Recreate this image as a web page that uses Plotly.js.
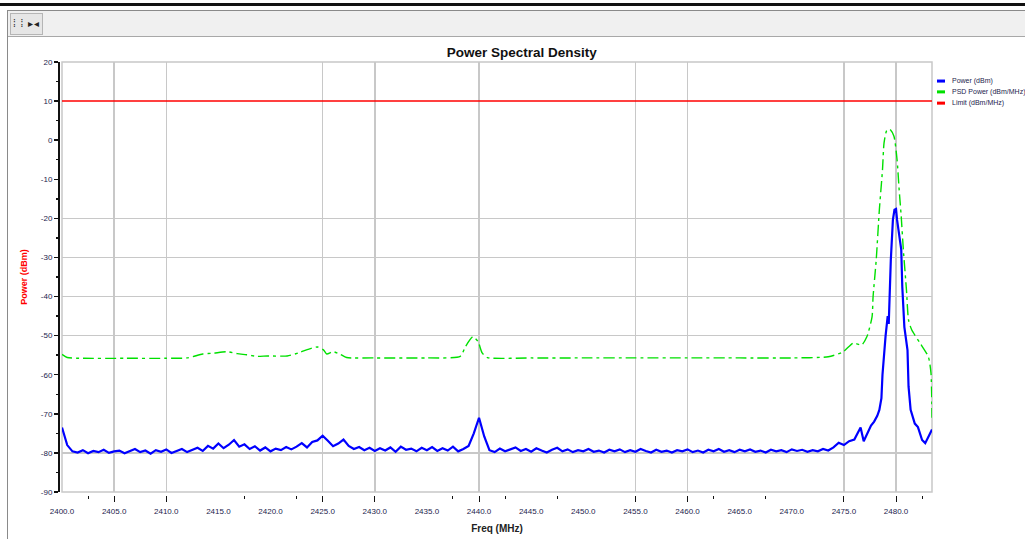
<!DOCTYPE html>
<html>
<head>
<meta charset="utf-8">
<script src="https://cdn.plot.ly/plotly-3.0.1.min.js"></script>
<style>
  html, body { margin:0; padding:0; background:#fff; width:1025px; height:539px; overflow:hidden; font-family:"Liberation Sans", Arial, sans-serif; }
  #topbar { position:absolute; left:0; top:3px; width:1025px; height:3px; background:#111; }
  #toolbar { position:absolute; left:8px; top:10px; width:1017px; height:25px; background:#f0f0f0; border-top:1px solid #8a8a8a; border-bottom:1px solid #a8a8a8; }
  #leftborder { position:absolute; left:7px; top:10px; width:1px; height:529px; background:#8a8a8a; }
  #btn { position:absolute; left:10px; top:13px; width:31px; height:20px; background:#e6e6e6; border:1px solid #b5b5b5; font-size:10px; line-height:20px; color:#222; text-align:center; letter-spacing:1px; }
  #chart { position:absolute; left:0; top:0; width:1025px; height:539px; }
</style>
</head>
<body>
<div id="topbar"></div>
<div id="toolbar"></div>
<div id="leftborder"></div>
<div id="btn">⁞ ⁞ ▸◂</div>
<div id="chart"></div>
<script>
// ---- Data ----
const seriesNames = ['Power (dBm)', 'PSD Power (dBm/MHz)', 'Limit (dBm/MHz)'];
const seriesColors = ['#0000ff', '#00e000', '#ff0000'];

const powerFreq = [
  2400.0,2400.5,2401.0,2401.5,2402.0,2402.5,2403.0,2403.5,2404.0,2404.5,
  2405.0,2405.5,2406.0,2406.5,2407.0,2407.5,2408.0,2408.5,2409.0,2409.5,
  2410.0,2410.5,2411.0,2411.5,2412.0,2412.5,2413.0,2413.5,2414.0,2414.5,
  2415.0,2415.5,2416.0,2416.5,2417.0,2417.5,2418.0,2418.5,2419.0,2419.5,
  2420.0,2420.5,2421.0,2421.5,2422.0,2422.5,2423.0,2423.5,2424.0,2424.5,
  2425.0,2425.5,2426.0,2426.5,2427.0,2427.5,2428.0,2428.5,2429.0,2429.5,
  2430.0,2430.5,2431.0,2431.5,2432.0,2432.5,2433.0,2433.5,2434.0,2434.5,
  2435.0,2435.5,2436.0,2436.5,2437.0,2437.5,2438.0,2438.5,2439.0,2439.5,
  2440.0,2440.5,2441.0,2441.5,2442.0,2442.5,2443.0,2443.5,2444.0,2444.5,
  2445.0,2445.5,2446.0,2446.5,2447.0,2447.5,2448.0,2448.5,2449.0,2449.5,
  2450.0,2450.5,2451.0,2451.5,2452.0,2452.5,2453.0,2453.5,2454.0,2454.5,
  2455.0,2455.5,2456.0,2456.5,2457.0,2457.5,2458.0,2458.5,2459.0,2459.5,
  2460.0,2460.5,2461.0,2461.5,2462.0,2462.5,2463.0,2463.5,2464.0,2464.5,
  2465.0,2465.5,2466.0,2466.5,2467.0,2467.5,2468.0,2468.5,2469.0,2469.5,
  2470.0,2470.5,2471.0,2471.5,2472.0,2472.5,2473.0,2473.5,2474.0,2474.5,
  2475.0,2475.5,2476.0,2476.3,2476.6,2476.9,2477.3,2477.6,2477.9,2478.2,
  2478.4,2478.6,2478.7,2478.8,2479.0,2479.2,2479.3,2479.5,2479.7,2479.85,
  2480.0,2480.1,2480.3,2480.5,2480.6,2480.8,2481.1,2481.2,2481.4,2481.6,
  2481.8,2482.1,2482.3,2482.5,2482.8,2483.1,2483.3,2483.45
];
const powerDbm = [
  -73.5,-78.0,-79.6,-79.9,-79.3,-80.1,-79.5,-79.8,-79.2,-80.0,
  -79.6,-79.4,-80.1,-79.5,-79.0,-79.8,-79.4,-80.2,-79.3,-79.7,
  -79.1,-80.0,-79.4,-79.0,-79.8,-79.2,-78.7,-79.5,-78.2,-78.9,
  -77.6,-78.8,-77.9,-76.7,-78.4,-77.8,-79.0,-78.3,-79.4,-78.6,
  -79.6,-78.9,-79.3,-78.5,-79.1,-78.4,-77.5,-78.6,-77.2,-76.8,
  -75.6,-76.9,-78.3,-77.6,-76.6,-78.2,-79.0,-78.5,-79.3,-78.7,
  -79.5,-78.8,-79.4,-78.6,-79.7,-78.4,-79.2,-78.9,-79.6,-78.7,
  -79.3,-78.5,-79.5,-78.8,-79.4,-78.4,-79.6,-79.0,-78.2,-75.0,
  -71.0,-75.8,-79.3,-79.8,-78.9,-79.6,-79.1,-78.6,-79.5,-79.0,
  -79.7,-78.8,-79.4,-79.9,-79.2,-78.7,-79.6,-79.1,-79.8,-79.3,
  -79.6,-79.0,-79.7,-79.4,-79.9,-79.2,-79.6,-79.1,-79.8,-79.3,
  -79.7,-79.0,-79.5,-79.9,-79.2,-79.7,-79.4,-79.9,-79.3,-79.6,
  -79.1,-79.8,-79.4,-79.9,-79.2,-79.6,-79.0,-79.7,-79.3,-79.8,
  -79.2,-79.6,-79.1,-79.7,-79.4,-79.9,-79.2,-79.6,-79.3,-79.8,
  -79.1,-79.5,-79.2,-79.7,-79.3,-79.6,-79.0,-79.4,-78.6,-77.4,
  -78.0,-77.0,-76.6,-75.0,-73.5,-77.0,-74.5,-73.0,-72.0,-70.5,
  -69.0,-66.0,-60.0,-56.0,-50.0,-45.0,-47.0,-30.6,-20.4,-17.8,
  -17.6,-20.4,-23.7,-28.0,-37.5,-47.8,-53.7,-63.0,-69.0,-70.8,
  -72.5,-73.4,-75.2,-76.7,-77.5,-76.0,-75.0,-74.0
];

const psdFreq = [
  2400.0,2400.5,2402.0,2406.0,2410.0,2412.0,2413.5,2414.5,2415.8,2416.8,
  2417.7,2418.7,2419.7,2421.6,2422.8,2423.6,2424.5,2425.1,2425.4,2426.0,
  2426.7,2427.3,2430.0,2435.0,2438.2,2438.7,2439.4,2439.9,2440.3,2440.8,
  2445.0,2450.0,2455.0,2460.0,2465.0,2470.0,2473.5,2474.9,2475.9,2476.7,
  2477.2,2477.7,2477.8,2478.1,2478.4,2478.7,2478.85,2479.1,2479.4,2479.8,
  2480.1,2480.3,2480.5,2480.7,2481.0,2481.2,2481.5,2482.3,2483.1,2483.35,
  2483.45
];
const psdDbm = [
  -54.8,-55.6,-55.8,-55.8,-55.8,-55.7,-54.7,-54.5,-54.1,-54.6,
  -54.9,-55.3,-55.2,-55.2,-54.3,-53.5,-52.9,-53.7,-54.7,-54.1,
  -54.8,-55.6,-55.7,-55.7,-55.3,-52.8,-50.3,-51.5,-54.4,-55.6,
  -55.7,-55.7,-55.7,-55.7,-55.7,-55.7,-55.4,-54.2,-51.9,-52.4,
  -50.3,-45.2,-40.0,-30.6,-17.8,-7.6,-0.7,2.4,2.8,1.0,
  -5.0,-12.7,-19.6,-28.0,-38.3,-46.0,-48.5,-51.9,-55.4,-59.5,
  -71.0
];

const limitFreq = [2400.0, 2483.45];
const limitDbm = [10, 10];

const xTickVals = [2400,2405,2410,2415,2420,2425,2430,2435,2440,2445,2450,2455,2460,2465,2470,2475,2480];
const xTickText = ['2400.0','2405.0','2410.0','2415.0','2420.0','2425.0','2430.0','2435.0','2440.0','2445.0','2450.0','2455.0','2460.0','2465.0','2470.0','2475.0','2480.0'];
const xGridVals = [2405,2410,2425,2430,2440,2455,2460,2475,2480];
const xMinorVals = [2402.5,2417.5,2422.5,2437.5,2442.5,2447.5,2462.5,2467.5,2482.5];
const yTickVals = [20,10,0,-10,-20,-30,-40,-50,-60,-70,-80,-90];
const yTickText = ['20','10','0','-10','-20','-30','-40','-50','-60','-70','-80','-90'];
const yMinorVals = [15,5,-5,-15,-25,-35,-45,-55,-65,-75,-85];
const yGridVals = [-20,-30,-40,-50,-80];

// ---- Traces ----
const traces = [
  { x: powerFreq, y: powerDbm, name: seriesNames[0], type: 'scatter', mode: 'lines',
    line: { color: seriesColors[0], width: 2.2 }, showlegend: false, hoverinfo: 'x+y' },
  { x: psdFreq, y: psdDbm, name: seriesNames[1], type: 'scatter', mode: 'lines',
    line: { color: seriesColors[1], width: 1.4, dash: '11px,4px,3px,4px', shape: 'spline', smoothing: 0.6 }, showlegend: false, hoverinfo: 'x+y' },
  { x: limitFreq, y: limitDbm, name: seriesNames[2], type: 'scatter', mode: 'lines',
    xaxis: 'x2', yaxis: 'y2',
    line: { color: seriesColors[2], width: 1.5 }, showlegend: false, hoverinfo: 'x+y' }
];

const xRange = [2400, 2483.45];
const yRange = [-90, 20];
const tickFont = { family: '"Liberation Sans", Arial, sans-serif', size: 8, color: '#24244e' };

// legend built from series names/colors
const legendY = [0.956, 0.931, 0.905];
const annotations = seriesNames.map((n, i) => ({
  text: n, xref: 'paper', yref: 'paper', x: 1.0205, y: legendY[i],
  xanchor: 'left', yanchor: 'middle', showarrow: false,
  font: { family: '"Liberation Sans", Arial, sans-serif', size: 7, color: '#24244e' }
}));
const shapes = seriesNames.map((n, i) => ({
  type: 'rect', xref: 'paper', yref: 'paper',
  x0: 1.0057, x1: 1.0149, y0: legendY[i] - 0.0035, y1: legendY[i] + 0.0035,
  fillcolor: seriesColors[i], line: { width: 0 }
}));
shapes.push({ type: 'rect', xref: 'x domain', yref: 'y domain', x0: 0, x1: 1, y0: 0, y1: 1,
  line: { color: '#c8c8c8', width: 1.5 }, layer: 'below' });

const layout = {
  width: 1025, height: 539,
  margin: { l: 58, r: 93, t: 62, b: 44 },
  paper_bgcolor: 'rgba(0,0,0,0)',
  plot_bgcolor: '#ffffff',
  showlegend: false,
  title: { text: 'Power Spectral Density', xref: 'container', yref: 'container', x: 0.509, y: 0.903,
    xanchor: 'center', yanchor: 'middle',
    font: { family: '"Liberation Sans", Arial, sans-serif', size: 13.5, color: '#111111', weight: 'bold' } },
  xaxis: {
    domain: [0.00458, 1], anchor: 'free', position: 0,
    range: xRange, tickmode: 'array', tickvals: xTickVals, ticktext: xTickText,
    ticks: '', showgrid: false, zeroline: false, showline: false,
    tickfont: tickFont, ticklabelstandoff: 10,
    title: { text: 'Freq (MHz)', standoff: 9,
      font: { family: '"Liberation Sans", Arial, sans-serif', size: 10, color: '#222222', weight: 'bold' } }
  },
  xaxis2: {
    domain: [0.00458, 1], overlaying: 'x', anchor: 'free', position: 0,
    range: xRange, tickmode: 'array', tickvals: xGridVals, showticklabels: false,
    ticks: 'outside', ticklen: 6, tickwidth: 1, tickcolor: '#111',
    showgrid: true, gridcolor: '#c8c8c8', gridwidth: 1.5, zeroline: false, showline: false,
    minor: { tickvals: xMinorVals, ticks: 'outside', ticklen: 3, tickwidth: 1, tickcolor: '#111', showgrid: false }
  },
  yaxis: {
    domain: [0.00693, 1], anchor: 'free', position: 0,
    range: yRange, tickmode: 'array', tickvals: yTickVals, ticktext: yTickText,
    ticks: 'outside', ticklen: 4, tickwidth: 1.5, tickcolor: '#111',
    showgrid: false, zeroline: false, showline: true, linecolor: '#111', linewidth: 1.5,
    tickfont: tickFont,
    minor: { tickvals: yMinorVals, ticks: 'outside', ticklen: 2, tickwidth: 1.5, tickcolor: '#111', showgrid: false },
    title: { text: 'Power (dBm)', standoff: 10,
      font: { family: '"Liberation Sans", Arial, sans-serif', size: 9, color: '#ff0000', weight: 'bold' } }
  },
  yaxis2: {
    domain: [0.00693, 1], overlaying: 'y', anchor: 'x2',
    range: yRange, tickmode: 'array', tickvals: yGridVals, showticklabels: false, ticks: '',
    showgrid: true, gridcolor: '#c8c8c8', gridwidth: 1.5, zeroline: false, showline: false
  },
  annotations: annotations,
  shapes: shapes
};

Plotly.newPlot('chart', traces, layout, { displayModeBar: false, staticPlot: true });
</script>
</body>
</html>
